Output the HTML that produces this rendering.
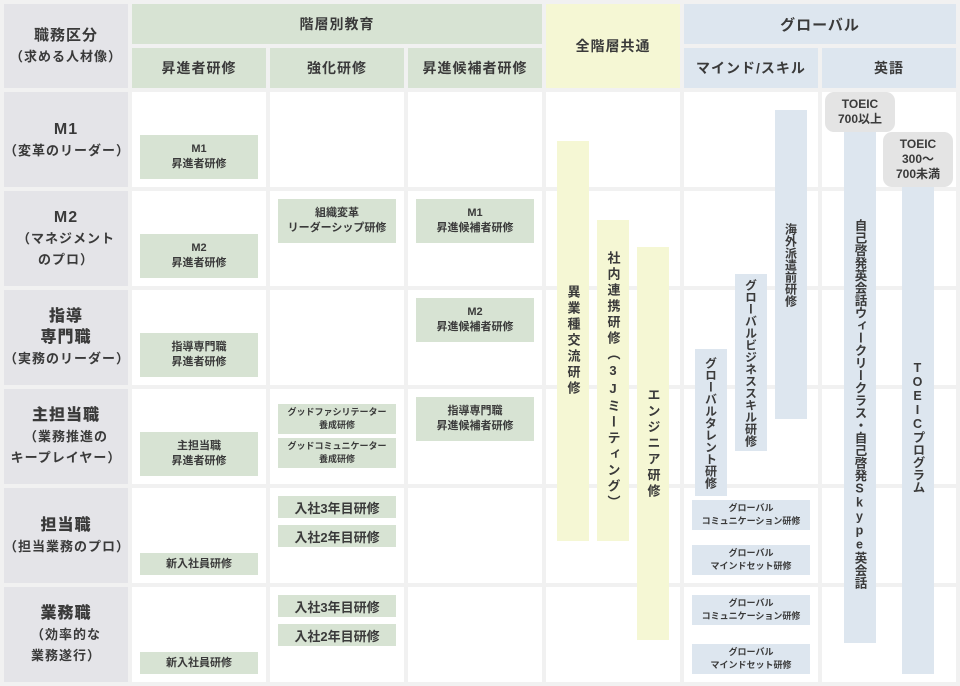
<!DOCTYPE html>
<html><head><meta charset="utf-8"><style>
*{margin:0;padding:0;box-sizing:border-box}
body{width:960px;height:686px;background:#f1f1f1;position:relative;overflow:hidden;font-family:"Liberation Sans","Noto Sans CJK JP",sans-serif;color:#3a3a3a;font-weight:bold}
div{position:absolute}
.c{display:flex;align-items:center;justify-content:center;text-align:center}
.g{background:#d7e3d3}.y{background:#f5f7d4}.b{background:#dde6ef}.l{background:#e4e4e8}.w{background:#fff}
.h{font-size:14px;letter-spacing:1px}
.lab{font-size:13px;line-height:21px;letter-spacing:1px}
.lab b{font-size:16px}
.bx{font-size:11px;line-height:15px}
.v{writing-mode:vertical-rl;text-orientation:upright;display:flex;align-items:center;justify-content:center;font-size:13px;letter-spacing:3px}
.v2{writing-mode:vertical-rl;text-orientation:upright;display:flex;align-items:center;justify-content:center;font-size:12px;letter-spacing:0px}
.p{background:#e4e4e4;border-radius:9px;font-size:12px;line-height:15px}
</style></head><body>
<div class="l c lab" style="left:4px;top:4px;width:124px;height:84px;flex-direction:column"><span style="font-size:15px">職務区分</span><span>（求める人材像）</span></div>
<div class="g c h" style="left:132px;top:4px;width:410px;height:40px">階層別教育</div>
<div class="g c h" style="left:132px;top:48px;width:134px;height:40px">昇進者研修</div>
<div class="g c h" style="left:270px;top:48px;width:134px;height:40px">強化研修</div>
<div class="g c h" style="left:408px;top:48px;width:134px;height:40px">昇進候補者研修</div>
<div class="y c h" style="left:546px;top:4px;width:134px;height:84px">全階層共通</div>
<div class="b c h" style="left:684px;top:4px;width:272px;height:40px;font-size:15px">グローバル</div>
<div class="b c h" style="left:684px;top:48px;width:134px;height:40px">マインド/スキル</div>
<div class="b c h" style="left:822px;top:48px;width:134px;height:40px">英語</div>

<div class="l c lab" style="left:4px;top:92px;width:124px;height:95px;flex-direction:column"><b>M1</b><span>（変革のリーダー）</span></div>
<div class="l c lab" style="left:4px;top:191px;width:124px;height:95px;flex-direction:column"><b>M2</b><span>（マネジメント</span><span>のプロ）</span></div>
<div class="l c lab" style="left:4px;top:290px;width:124px;height:95px;flex-direction:column"><b>指導</b><b>専門職</b><span>（実務のリーダー）</span></div>
<div class="l c lab" style="left:4px;top:389px;width:124px;height:95px;flex-direction:column"><b>主担当職</b><span>（業務推進の</span><span>キープレイヤー）</span></div>
<div class="l c lab" style="left:4px;top:488px;width:124px;height:95px;flex-direction:column"><b>担当職</b><span>（担当業務のプロ）</span></div>
<div class="l c lab" style="left:4px;top:587px;width:124px;height:95px;flex-direction:column"><b>業務職</b><span>（効率的な</span><span>業務遂行）</span></div>

<div class="w" style="left:132px;top:92px;width:134px;height:95px"></div><div class="w" style="left:270px;top:92px;width:134px;height:95px"></div><div class="w" style="left:408px;top:92px;width:134px;height:95px"></div><div class="w" style="left:546px;top:92px;width:134px;height:95px"></div><div class="w" style="left:684px;top:92px;width:134px;height:95px"></div><div class="w" style="left:822px;top:92px;width:134px;height:95px"></div>
<div class="w" style="left:132px;top:191px;width:134px;height:95px"></div><div class="w" style="left:270px;top:191px;width:134px;height:95px"></div><div class="w" style="left:408px;top:191px;width:134px;height:95px"></div><div class="w" style="left:546px;top:191px;width:134px;height:95px"></div><div class="w" style="left:684px;top:191px;width:134px;height:95px"></div><div class="w" style="left:822px;top:191px;width:134px;height:95px"></div>
<div class="w" style="left:132px;top:290px;width:134px;height:95px"></div><div class="w" style="left:270px;top:290px;width:134px;height:95px"></div><div class="w" style="left:408px;top:290px;width:134px;height:95px"></div><div class="w" style="left:546px;top:290px;width:134px;height:95px"></div><div class="w" style="left:684px;top:290px;width:134px;height:95px"></div><div class="w" style="left:822px;top:290px;width:134px;height:95px"></div>
<div class="w" style="left:132px;top:389px;width:134px;height:95px"></div><div class="w" style="left:270px;top:389px;width:134px;height:95px"></div><div class="w" style="left:408px;top:389px;width:134px;height:95px"></div><div class="w" style="left:546px;top:389px;width:134px;height:95px"></div><div class="w" style="left:684px;top:389px;width:134px;height:95px"></div><div class="w" style="left:822px;top:389px;width:134px;height:95px"></div>
<div class="w" style="left:132px;top:488px;width:134px;height:95px"></div><div class="w" style="left:270px;top:488px;width:134px;height:95px"></div><div class="w" style="left:408px;top:488px;width:134px;height:95px"></div><div class="w" style="left:546px;top:488px;width:134px;height:95px"></div><div class="w" style="left:684px;top:488px;width:134px;height:95px"></div><div class="w" style="left:822px;top:488px;width:134px;height:95px"></div>
<div class="w" style="left:132px;top:587px;width:134px;height:95px"></div><div class="w" style="left:270px;top:587px;width:134px;height:95px"></div><div class="w" style="left:408px;top:587px;width:134px;height:95px"></div><div class="w" style="left:546px;top:587px;width:134px;height:95px"></div><div class="w" style="left:684px;top:587px;width:134px;height:95px"></div><div class="w" style="left:822px;top:587px;width:134px;height:95px"></div>

<div class="g c bx" style="left:140px;top:135px;width:118px;height:44px">M1<br>昇進者研修</div>
<div class="g c bx" style="left:140px;top:234px;width:118px;height:44px">M2<br>昇進者研修</div>
<div class="g c bx" style="left:140px;top:333px;width:118px;height:44px">指導専門職<br>昇進者研修</div>
<div class="g c bx" style="left:140px;top:432px;width:118px;height:44px">主担当職<br>昇進者研修</div>
<div class="g c bx" style="left:140px;top:553px;width:118px;height:22px">新入社員研修</div>
<div class="g c bx" style="left:140px;top:652px;width:118px;height:22px">新入社員研修</div>
<div class="g c bx" style="left:278px;top:199px;width:118px;height:44px">組織変革<br>リーダーシップ研修</div>
<div class="g c" style="left:278px;top:404px;width:118px;height:30px;font-size:9px;line-height:13px">グッドファシリテーター<br>養成研修</div>
<div class="g c" style="left:278px;top:438px;width:118px;height:30px;font-size:9px;line-height:13px">グッドコミュニケーター<br>養成研修</div>
<div class="g c" style="left:278px;top:496px;width:118px;height:22px;font-size:13px">入社3年目研修</div>
<div class="g c" style="left:278px;top:525px;width:118px;height:22px;font-size:13px">入社2年目研修</div>
<div class="g c" style="left:278px;top:595px;width:118px;height:22px;font-size:13px">入社3年目研修</div>
<div class="g c" style="left:278px;top:624px;width:118px;height:22px;font-size:13px">入社2年目研修</div>
<div class="g c bx" style="left:416px;top:199px;width:118px;height:44px">M1<br>昇進候補者研修</div>
<div class="g c bx" style="left:416px;top:298px;width:118px;height:44px">M2<br>昇進候補者研修</div>
<div class="g c bx" style="left:416px;top:397px;width:118px;height:44px">指導専門職<br>昇進候補者研修</div>
<div class="y v" style="left:557px;top:141px;width:32px;height:400px">異業種交流研修</div>
<div class="y v" style="left:597px;top:220px;width:32px;height:321px">社内連携研修（3Jミーティング）</div>
<div class="y v" style="left:637px;top:247px;width:32px;height:393px">エンジニア研修</div>
<div class="b v2" style="left:775px;top:110px;width:32px;height:309px">海外派遣前研修</div>
<div class="b v2" style="left:735px;top:274px;width:32px;height:177px">グローバルビジネススキル研修</div>
<div class="b v2" style="left:695px;top:349px;width:32px;height:147px">グローバルタレント研修</div>
<div class="b c" style="left:692px;top:500px;width:118px;height:30px;font-size:9px;line-height:13px">グローバル<br>コミュニケーション研修</div>
<div class="b c" style="left:692px;top:545px;width:118px;height:30px;font-size:9px;line-height:13px">グローバル<br>マインドセット研修</div>
<div class="b c" style="left:692px;top:595px;width:118px;height:30px;font-size:9px;line-height:13px">グローバル<br>コミュニケーション研修</div>
<div class="b c" style="left:692px;top:644px;width:118px;height:30px;font-size:9px;line-height:13px">グローバル<br>マインドセット研修</div>
<div class="b v2" style="left:844px;top:120px;width:32px;height:523px;font-size:12.5px;padding-top:44px">自己啓発英会話ウィークリークラス・自己啓発Skype英会話</div>
<div class="b v2" style="left:902px;top:180px;width:32px;height:494px;font-size:12.5px">TOEICプログラム</div>
<div class="p c" style="left:825px;top:92px;width:70px;height:40px">TOEIC<br>700以上</div>
<div class="p c" style="left:883px;top:132px;width:70px;height:55px">TOEIC<br>300〜<br>700未満</div>
</body></html>
